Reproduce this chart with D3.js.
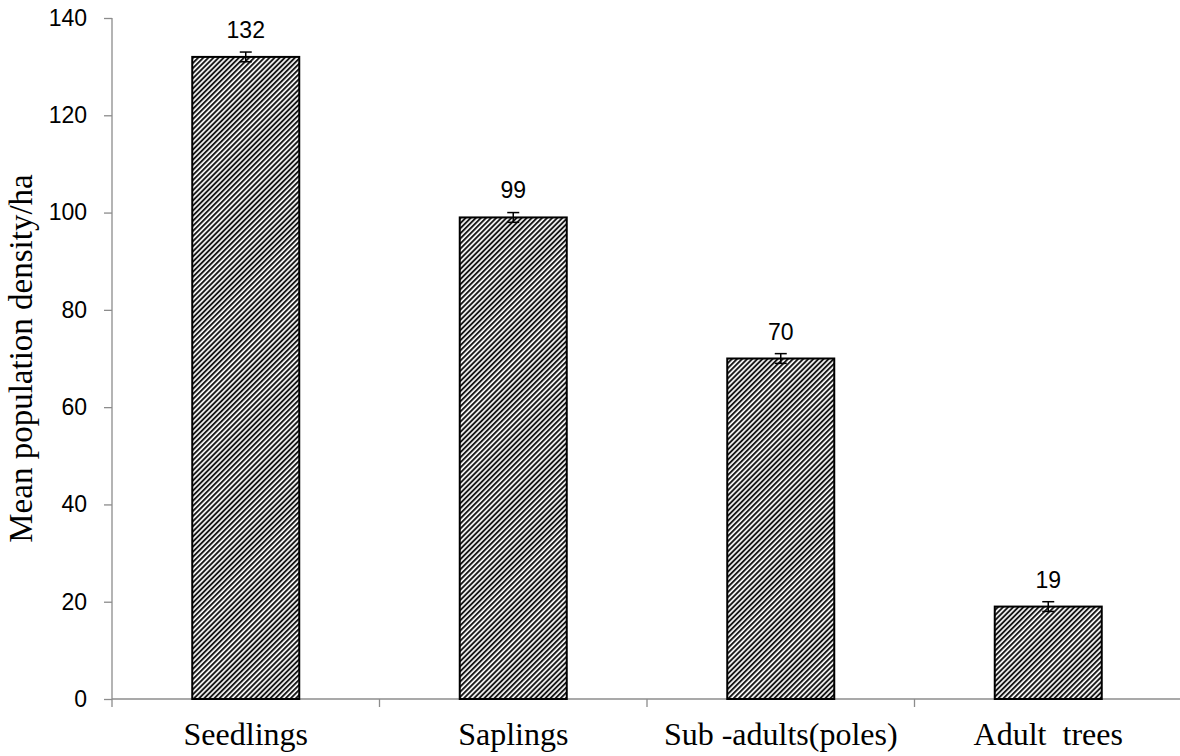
<!DOCTYPE html>
<html>
<head>
<meta charset="utf-8">
<script src="https://cdn.jsdelivr.net/npm/d3@7"></script>
<style>
  body { margin: 0; background: #fff; }
  svg { display: block; }
</style>
</head>
<body>
<div id="chart"></div>
<script>
// Daten
const categories = ["Seedlings", "Saplings", "Sub -adults(poles)", "Adult  trees"];
const values = [132, 99, 70, 19];
const errors = [1, 1, 1, 1];
const yTicks = [0, 20, 40, 60, 80, 100, 120, 140];

const width = 1180, height = 756;
const margin = { top: 18, right: -2, bottom: 57, left: 112 };

const data = categories.map((c, i) => ({ cat: c, value: values[i], err: errors[i] }));

const svg = d3.select("#chart")
    .append("svg")
    .attr("width", width)
    .attr("height", height);

// Schraffur-Muster wie im Original
const defs = svg.append("defs");
const pat = defs.append("pattern")
    .attr("id", "hatch")
    .attr("patternUnits", "userSpaceOnUse")
    .attr("width", 3.6)
    .attr("height", 3.6)
    .attr("patternTransform", "rotate(45)");
pat.append("rect").attr("width", 3.6).attr("height", 3.6).attr("fill", "#fff");
pat.append("line")
    .attr("x1", 1).attr("y1", 0).attr("x2", 1).attr("y2", 3.6)
    .attr("stroke", "#111")
    .attr("stroke-width", 1.9);

const x = d3.scaleBand()
    .domain(categories)
    .range([margin.left, width - margin.right])
    .paddingInner(0.6)
    .paddingOuter(0.3);

const y = d3.scaleLinear()
    .domain([0, 140])
    .range([height - margin.bottom, margin.top]);

const step = x.step();

// y-Achse
const yAxis = g => g
    .attr("transform", `translate(${margin.left},0)`)
    .call(d3.axisLeft(y).tickValues(yTicks).tickSize(8).tickPadding(17))
    .call(g => g.select(".domain").remove())
    .call(g => g.selectAll(".tick line").attr("stroke", "#8c8c8c").attr("stroke-width", 1.3))
    .call(g => g.selectAll("text")
        .attr("fill", "#000")
        .style("font-family", "'Liberation Sans', Arial, sans-serif")
        .style("font-size", "23px"));
svg.append("g").call(yAxis);

svg.append("line")
    .attr("x1", margin.left).attr("x2", margin.left)
    .attr("y1", y(140)).attr("y2", y(0) + 8)
    .attr("stroke", "#8c8c8c").attr("stroke-width", 1.3);

// x-Achse mit Teilstrichen zwischen den Kategorien
svg.append("line")
    .attr("x1", margin.left).attr("x2", width)
    .attr("y1", y(0)).attr("y2", y(0))
    .attr("stroke", "#8c8c8c").attr("stroke-width", 1.3);

svg.append("g")
    .selectAll("line")
    .data(categories)
    .enter()
    .append("line")
    .attr("x1", d => x(d) - x.paddingOuter() * step + step)
    .attr("x2", d => x(d) - x.paddingOuter() * step + step)
    .attr("y1", y(0))
    .attr("y2", y(0) + 8)
    .attr("stroke", "#8c8c8c").attr("stroke-width", 1.3);

svg.append("g")
    .selectAll("text")
    .data(categories)
    .enter()
    .append("text")
    .attr("x", d => x(d) + x.bandwidth() / 2)
    .attr("y", 745)
    .attr("text-anchor", "middle")
    .attr("xml:space", "preserve")
    .style("white-space", "pre")
    .style("font-family", "'Liberation Serif', 'Times New Roman', serif")
    .style("font-size", "32px")
    .text(d => d);

// Balken
svg.append("g")
    .selectAll("rect")
    .data(data)
    .enter()
    .append("rect")
    .attr("x", d => x(d.cat))
    .attr("y", d => y(d.value))
    .attr("width", x.bandwidth())
    .attr("height", d => y(0) - y(d.value))
    .attr("fill", "url(#hatch)")
    .attr("stroke", "#000")
    .attr("stroke-width", 2);

// Fehlerbalken
const eb = svg.append("g")
    .selectAll("g")
    .data(data)
    .enter()
    .append("g")
    .attr("stroke", "#000")
    .attr("stroke-width", 1.5);
eb.append("line")
    .attr("x1", d => x(d.cat) + x.bandwidth() / 2)
    .attr("x2", d => x(d.cat) + x.bandwidth() / 2)
    .attr("y1", d => y(d.value + d.err))
    .attr("y2", d => y(d.value - d.err));
eb.append("line")
    .attr("x1", d => x(d.cat) + x.bandwidth() / 2 - 6)
    .attr("x2", d => x(d.cat) + x.bandwidth() / 2 + 6)
    .attr("y1", d => y(d.value + d.err))
    .attr("y2", d => y(d.value + d.err));
eb.append("line")
    .attr("x1", d => x(d.cat) + x.bandwidth() / 2 - 6)
    .attr("x2", d => x(d.cat) + x.bandwidth() / 2 + 6)
    .attr("y1", d => y(d.value - d.err))
    .attr("y2", d => y(d.value - d.err));

// Wertbeschriftungen
svg.append("g")
    .selectAll("text")
    .data(data)
    .enter()
    .append("text")
    .attr("x", d => x(d.cat) + x.bandwidth() / 2)
    .attr("y", d => y(d.value) - 19)
    .attr("text-anchor", "middle")
    .style("font-family", "'Liberation Sans', Arial, sans-serif")
    .style("font-size", "23px")
    .text(d => d.value);

// y-Achsentitel
svg.append("text")
    .attr("transform", `translate(32,${(y(0) + y(140)) / 2}) rotate(-90)`)
    .attr("text-anchor", "middle")
    .style("font-family", "'Liberation Serif', 'Times New Roman', serif")
    .style("font-size", "33px")
    .text("Mean population density/ha");
</script>
</body>
</html>
